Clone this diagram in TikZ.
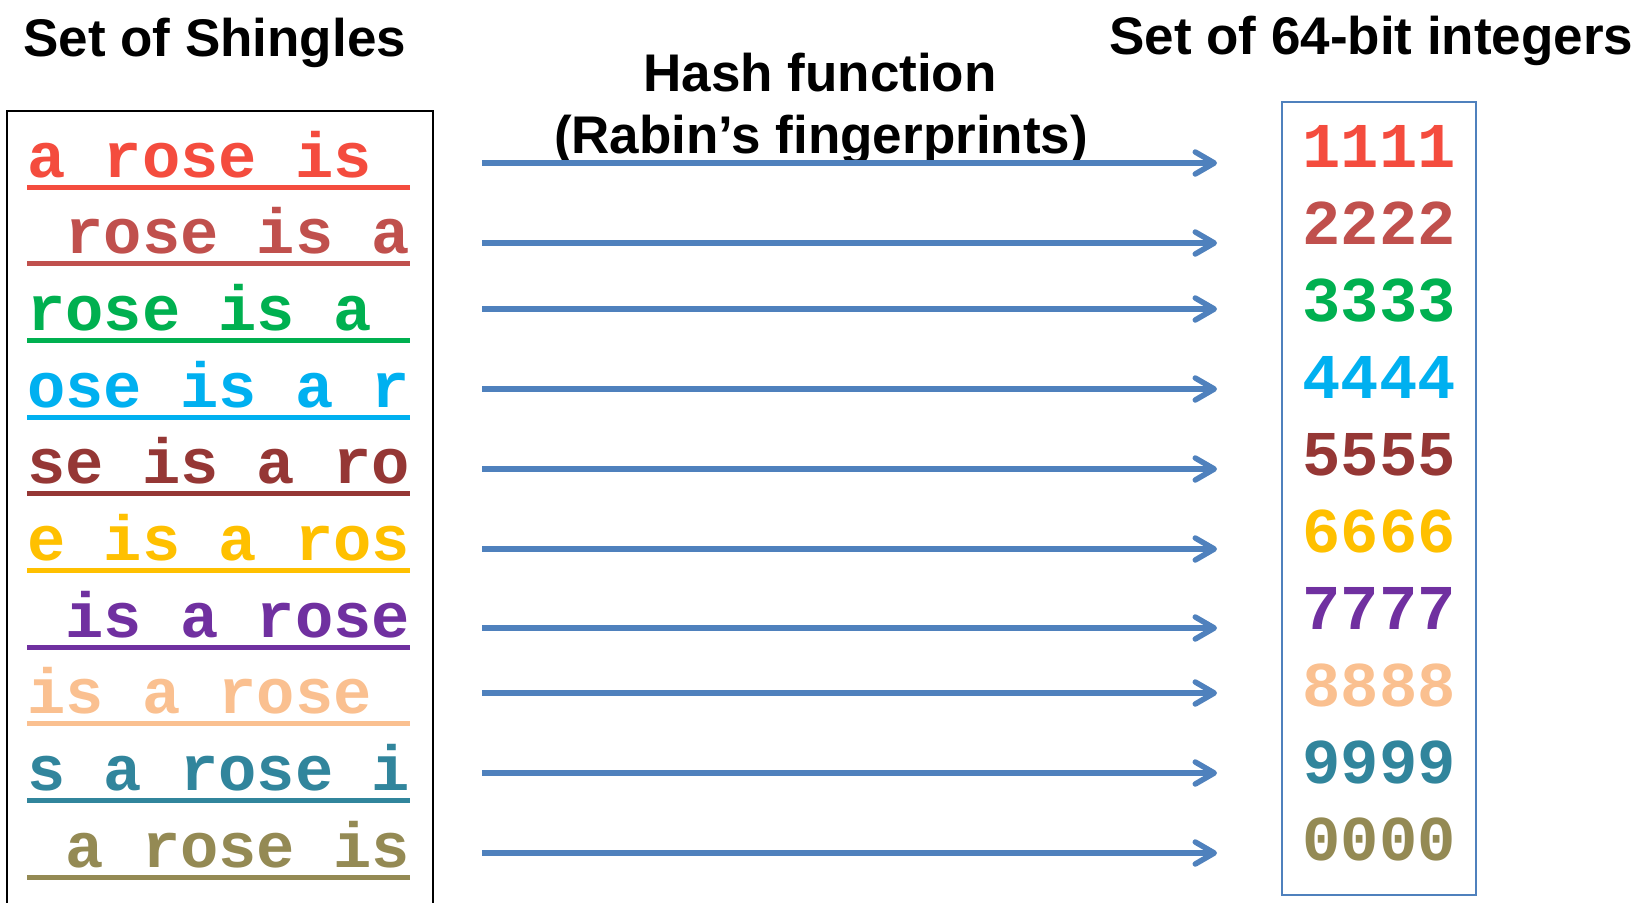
\documentclass[tikz,border=0pt]{standalone}
\usepackage{fontspec}
\setmainfont{Liberation Sans}
\newfontfamily\shinglefont{Liberation Mono}
\usetikzlibrary{arrows.meta}

\definecolor{hashblue}{HTML}{4F81BD}
\definecolor{cA}{HTML}{F44C3E}
\definecolor{cB}{HTML}{C0504D}
\definecolor{cC}{HTML}{00B050}
\definecolor{cD}{HTML}{00B0F0}
\definecolor{cE}{HTML}{953735}
\definecolor{cF}{HTML}{FFC000}
\definecolor{cG}{HTML}{7030A0}
\definecolor{cH}{HTML}{FAC090}
\definecolor{cI}{HTML}{31859C}
\definecolor{cJ}{HTML}{948A54}

% one blank character cell of the monospaced font
\newcommand\spc{\hphantom{a}}

\tikzset{
  title/.style={font=\fontsize{53}{60}\selectfont\bfseries, inner sep=0pt},
  shingle/.style={font=\shinglefont\fontsize{63.8}{64}\selectfont\bfseries,
                  inner sep=0pt, anchor=base west},
  hashval/.style={font=\shinglefont\fontsize{63.8}{64}\selectfont\bfseries,
                  inner sep=0pt, anchor=base},
  uline/.style={line width=5pt},
  hasharrow/.style={draw=hashblue, line width=5.5pt,
                    -{Straight Barb[length=19pt,width=22pt,line cap=round,line join=round]}},
}

\begin{document}
\begin{tikzpicture}[x=1pt,y=-1pt]
\useasboundingbox (0,0) rectangle (1645,902);
\clip (0,0) rectangle (1645,902);

% headings
\node[title, anchor=base west] (hshingles) at (23,56) {Set of Shingles};
\node[title, anchor=base west] (hints) at (1109,54) {Set of 64-bit integers};
\node[title, anchor=base] (hfun) at (820,91) {Hash function};
\node[title, anchor=base] (hrabin) at (821,153) {(Rabin’s fingerprints)};

% the two containers
\draw[line width=2pt] (7,111) rectangle (433,910);
\draw[hashblue, line width=2pt] (1282,102) rectangle (1476,895);

% shingles, each underlined across its ten character cells
\foreach \txt/\col [count=\i from 0] in {
    a\spc rose\spc is\spc/cA,
    \spc rose\spc is\spc a/cB,
    rose\spc is\spc a\spc/cC,
    ose\spc is\spc a\spc r/cD,
    se\spc is\spc a\spc ro/cE,
    e\spc is\spc a\spc ros/cF,
    \spc is\spc a\spc rose/cG,
    is\spc a\spc rose\spc/cH,
    s\spc a\spc rose\spc i/cI,
    \spc a\spc rose\spc is/cJ} {
  \pgfmathsetmacro\yb{177+\i*76.7}
  \node[shingle, text=\col] (sh\i) at (27,\yb) {\txt};
  \draw[uline, \col] (27,\yb+10) -- (410,\yb+10);
}

% fingerprint values
\foreach \val/\col [count=\i from 0] in {
    1111/cA, 2222/cB, 3333/cC, 4444/cD, 5555/cE,
    6666/cF, 7777/cG, 8888/cH, 9999/cI, 0000/cJ} {
  \pgfmathsetmacro\yb{167+\i*77.1}
  \node[hashval, text=\col] (hv\i) at (1379,\yb) {\val};
}

% hash arrows
\foreach \ya [count=\i from 0] in {163,243,309,389,469,549,628,693,773,853} {
  \coordinate (from\i) at (482,\ya);
  \coordinate (to\i) at (1217,\ya);
  \draw[hasharrow] (from\i) -- (to\i);
}
\end{tikzpicture}
\end{document}
